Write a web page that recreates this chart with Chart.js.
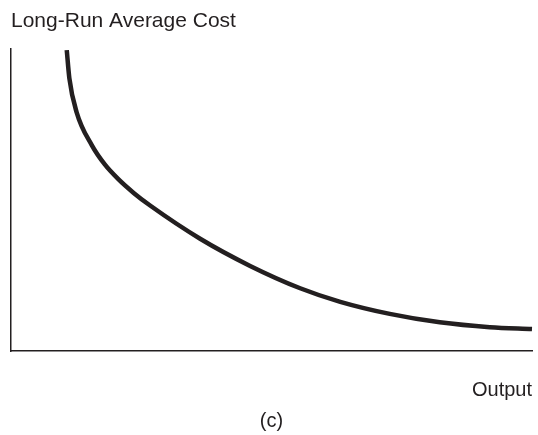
<!DOCTYPE html>
<html>
<head>
<meta charset="utf-8">
<script src="https://cdn.jsdelivr.net/npm/chart.js@4/dist/chart.umd.min.js"></script>
<style>
  html, body { margin: 0; padding: 0; background: #fff; }
  #wrap { width: 538px; height: 435px; }
</style>
</head>
<body>
<div id="wrap"><canvas id="lracChart" width="538" height="435"></canvas></div>
<script>
// output (x) and long-run average cost (y)
const output = [10.7, 11.2, 12.6, 15.5, 18.0, 20.5, 23.6, 26.7, 36.3, 45.9, 55.5, 63.2, 72.7, 82.3, 91.9, 100];
const avgCost = [99.7, 90.4, 79.1, 68.2, 61.8, 57.1, 52.3, 48.2, 37.2, 28.2, 20.8, 16.3, 12.3, 9.5, 7.9, 7.3];

const yLabel = 'Long-Run Average Cost';
const xLabel = 'Output';
const panelLabel = '(c)';

const ink = '#231f20';
const font = { family: '"Liberation Sans", Arial, sans-serif', size: 20, weight: 'normal' };

const points = output.map((x, i) => ({ x: x, y: avgCost[i] }));

const ctx = document.getElementById('lracChart').getContext('2d');
window.myChart = new Chart(ctx, {
  type: 'scatter',
  data: {
    datasets: [{
      label: yLabel,
      data: points,
      showLine: true,
      borderColor: ink,
      borderWidth: 4.5,
      pointRadius: 0,
      cubicInterpolationMode: 'monotone',
      clip: false
    }]
  },
  options: {
    responsive: false,
    animation: false,
    devicePixelRatio: 1,
    layout: { padding: { left: 11, right: 6, top: 0, bottom: 0 } },
    scales: {
      x: {
        type: 'linear',
        min: 0,
        max: 100,
        grid: { display: false, drawTicks: false },
        border: { display: true, color: ink, width: 1.5 },
        ticks: { display: false },
        title: {
          display: true,
          text: xLabel,
          align: 'end',
          color: ink,
          font: font,
          padding: { top: 27, bottom: 5 }
        }
      },
      y: {
        type: 'linear',
        min: 0,
        max: 100,
        grid: { display: false, drawTicks: false },
        border: { display: true, color: ink, width: 1.5 },
        ticks: { display: false }
      }
    },
    plugins: {
      legend: { display: false },
      tooltip: { enabled: false },
      title: {
        display: true,
        text: yLabel,
        align: 'start',
        color: ink,
        font: Object.assign({}, font, { size: 21 }),
        padding: { top: 9, bottom: 15 }
      },
      subtitle: {
        display: true,
        text: panelLabel,
        position: 'bottom',
        color: ink,
        font: font,
        padding: { top: 2, bottom: 2 }
      }
    }
  }
});
</script>
</body>
</html>
